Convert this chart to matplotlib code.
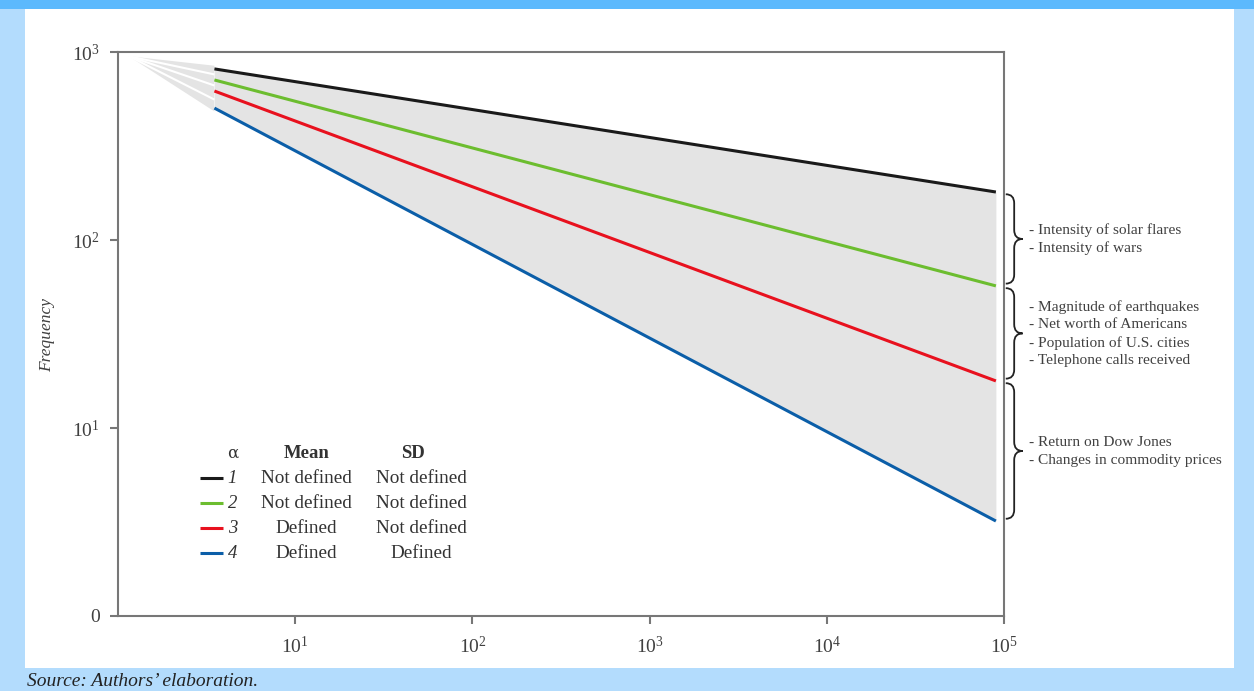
import numpy as np
import matplotlib
matplotlib.use("Agg")
import matplotlib.pyplot as plt
from matplotlib.path import Path
from matplotlib.patches import PathPatch, Rectangle

plt.rcParams['font.family'] = ['Liberation Serif', 'DejaVu Serif']
plt.rcParams['mathtext.fontset'] = 'custom'
plt.rcParams['mathtext.rm'] = 'Liberation Serif'
plt.rcParams['mathtext.it'] = 'Liberation Serif:italic'

# ---- data ----
alphas = ['1', '2', '3', '4']
means = ['Not defined', 'Not defined', 'Defined', 'Defined']
sds = ['Not defined', 'Not defined', 'Not defined', 'Defined']
line_colors = ['#1a1a1a', '#6cbd2f', '#e8111e', '#0b5ea8']
x_start, x_end = 3.5, 9.0e4
freq_start = [813, 710, 620, 503]
freq_end = [180, 57, 17.8, 3.2]
apex_x, apex_y = 1.15, 950
xticks = [10, 100, 1000, 10000, 100000]
xtick_labels = [r'$\mathregular{10^{1}}$', r'$\mathregular{10^{2}}$', r'$\mathregular{10^{3}}$',
                r'$\mathregular{10^{4}}$', r'$\mathregular{10^{5}}$']
yticks = [1, 10, 100, 1000]
ytick_labels = ['0', r'$\mathregular{10^{1}}$', r'$\mathregular{10^{2}}$', r'$\mathregular{10^{3}}$']
groups = [
    ["- Intensity of solar flares", "- Intensity of wars"],
    ["- Magnitude of earthquakes", "- Net worth of Americans",
     "- Population of U.S. cities", "- Telephone calls received"],
    ["- Return on Dow Jones", "- Changes in commodity prices"],
]

W, H = 1254, 691
fig = plt.figure(figsize=(W / 100, H / 100), dpi=100, facecolor='#b3dcfd')
# frame decorations
fig.patches.append(Rectangle((0, 1 - 9 / H), 1, 9 / H, transform=fig.transFigure,
                             facecolor='#5cb9fd', edgecolor='none', zorder=-2))
fig.patches.append(Rectangle((25 / W, 1 - 668 / H), (1234 - 25) / W, (668 - 9) / H,
                             transform=fig.transFigure, facecolor='white',
                             edgecolor='none', zorder=-1))

ax = fig.add_axes([118 / W, 1 - 616 / H, (1004 - 118) / W, (616 - 52) / H])
ax.set_facecolor('none')
ax.set_xscale('log')
ax.set_yscale('log')
ax.set_xlim(1, 1e5)
ax.set_ylim(1, 1000)

gray = '#e4e4e4'
# fan from apex
ax.fill([apex_x, x_start, x_start], [apex_y, freq_start[0] * 1.04, freq_start[-1] * 0.96],
        color=gray, lw=0, zorder=1)
for a, b in zip(freq_start[:-1], freq_start[1:]):
    mid = np.sqrt(a * b)
    ax.plot([apex_x, x_start], [apex_y, mid], color='white', lw=1.5, zorder=2,
            solid_capstyle='butt')
# main shaded region
ax.fill_between([x_start, x_end], [freq_start[0], freq_end[0]],
                [freq_start[-1], freq_end[-1]], color=gray, lw=0, zorder=1)
for fs, fe, c in zip(freq_start, freq_end, line_colors):
    ax.plot([x_start, x_end], [fs, fe], color=c, lw=2.2, zorder=3, solid_capstyle='butt')

# axes style
for s in ax.spines.values():
    s.set_color('#777777')
    s.set_linewidth(1.5)
ax.tick_params(axis='both', which='minor', length=0)
ax.tick_params(axis='both', which='major', length=6, width=1.5, color='#777777',
               labelcolor='#404040', labelsize=14)
ax.tick_params(axis='x', pad=8)
ax.tick_params(axis='y', pad=7)
ax.set_xticks(xticks)
ax.set_xticklabels(xtick_labels)
ax.set_yticks(yticks)
ax.set_yticklabels(ytick_labels)

fig.text(47 / W, 1 - 335 / H, 'Frequency', rotation=90, style='italic', fontsize=12.5,
         color='#404040', ha='center', va='center')
fig.text(27 / W, 1 - 682 / H, 'Source: Authors\u2019 elaboration.', style='italic',
         fontsize=14, color='#222222', ha='left', va='center')

# legend table (axes fraction)
ylog = lambda v: (np.log10(v) - 0) / 3.0
tc = '#333333'
T = ax.transAxes
hy = 0.289
ax.text(0.129, hy, '\u03b1', ha='center', va='center', fontsize=12, color=tc,
        family=['DejaVu Serif'], transform=T)
ax.text(0.213, hy, 'Mean', ha='center', va='center', fontsize=13.5,
        fontweight='bold', color=tc, transform=T)
ax.text(0.333, hy, 'SD', ha='center', va='center', fontsize=13.5,
        fontweight='bold', color=tc, transform=T)
row_y = [0.244, 0.200, 0.156, 0.111]
for yy, a, m, s_, c in zip(row_y, alphas, means, sds, line_colors):
    ax.plot([0.0925, 0.1185], [yy, yy], color=c, lw=2.2, transform=T,
            solid_capstyle='butt', zorder=4)
    ax.text(0.129, yy, a, ha='center', va='center', fontsize=13.5, style='italic',
            color=tc, transform=T)
    ax.text(0.213, yy, m, ha='center', va='center', fontsize=13.8, color=tc, transform=T)
    ax.text(0.342, yy, s_, ha='center', va='center', fontsize=13.8, color=tc, transform=T)


def brace(y_top, y_bot, x0=1.002, w=0.019, h=0.016):
    xm = x0 + w / 2
    ymid = (y_top + y_bot) / 2
    verts = [(x0, y_top), (xm, y_top), (xm, y_top - h),
             (xm, ymid + h), (xm, ymid), (x0 + w, ymid),
             (xm, ymid), (xm, ymid - h),
             (xm, y_bot + h), (xm, y_bot), (x0, y_bot)]
    codes = [Path.MOVETO, Path.CURVE3, Path.CURVE3,
             Path.LINETO, Path.CURVE3, Path.CURVE3,
             Path.CURVE3, Path.CURVE3,
             Path.LINETO, Path.CURVE3, Path.CURVE3]
    p = PathPatch(Path(verts, codes), facecolor='none', edgecolor='#222222', lw=1.3,
                  transform=T, clip_on=False)
    ax.add_patch(p)
    return ymid


ends = [ylog(v) for v in freq_end]
gap = 0.004
spans = [(ends[0] - gap, ends[1] + gap), (ends[1] - gap, ends[2] + gap),
         (ends[2] - gap, ends[3] + gap)]
line_h = 18 / 564
for (yt, yb), texts in zip(spans, groups):
    ymid = brace(yt, yb)
    n = len(texts)
    for i, t in enumerate(texts):
        yy = ymid - 0.001 + ((n - 1) / 2 - i) * line_h
        ax.text(1.028, yy, t, transform=T, ha='left', va='center',
                fontsize=11.1, color='#404040', clip_on=False)

fig.savefig('out.png', dpi=100, facecolor=fig.get_facecolor())
